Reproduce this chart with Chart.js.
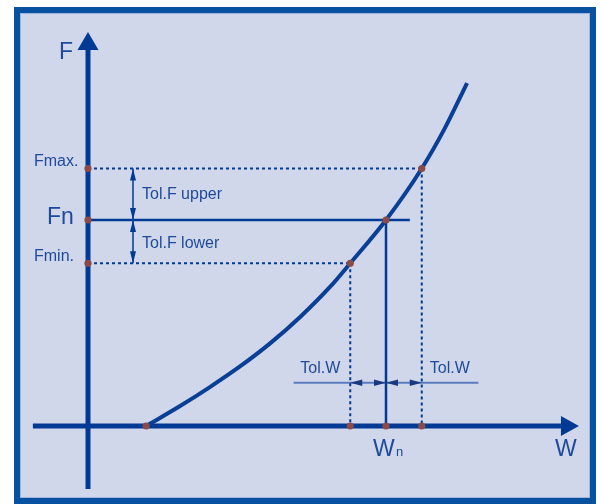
<!DOCTYPE html>
<html><head><meta charset="utf-8">
<script src="https://cdn.jsdelivr.net/npm/chart.js@4/dist/chart.umd.min.js"></script>
<style>html,body{margin:0;padding:0;background:#fff}canvas{display:block}</style>
</head><body>
<canvas id="c" width="600" height="504"></canvas>
<script>
// ---------- data (nominal Wn = 100, Fn = 100) ----------
const W_CURVE = [19.5, 30.9, 40.9, 51.0, 61.1, 71.1, 81.2, 88, 100, 112, 119.8, 127.2];
const F_CURVE = [0, 9.7, 18.9, 28.9, 40.1, 52.8, 67.5, 79, 100, 125, 144.7, 166.5];
const W_MIN = 88, W_N = 100, W_MAX = 112;
const F_MIN = 79, F_N = 100, F_MAX = 125;
const W_START = 19.5;
const W_AXIS = [-18.5, 158.7];
const F_AXIS = [-30.6, 182.5];
const TOL_F_AT_W = 15.1;
const TOL_W_AT_F = 21;
const TOL_W_LINE = [69, 131];
const FN_LINE_END = 108;
const TEXTS = ['F', 'Fmax.', 'Fn', 'Fmin.', 'Tol.F upper', 'Tol.F lower', 'Tol.W', 'Tol.W', 'W', 'n', 'W'];

// ---------- styles ----------
const AXIS = '#003a94', CURVE = '#0a3f98', DOT = '#8c4b4b', TXT = '#1e4a9c', LIGHT = '#5b7cbf';
const FONT = '"Liberation Sans", Arial, sans-serif';

const pts = (xs, ys) => xs.map((x, i) => ({x, y: ys[i]}));
const line = (data, color, width, extra) => Object.assign({
  data, showLine: true, borderColor: color, borderWidth: width, pointRadius: 0,
  fill: false, tension: 0
}, extra || {});

const datasets = [
  { data: [
      {x: 0, y: F_MAX}, {x: 0, y: F_N}, {x: 0, y: F_MIN},
      {x: W_START, y: 0}, {x: W_MIN, y: 0}, {x: W_N, y: 0}, {x: W_MAX, y: 0},
      {x: W_MIN, y: F_MIN}, {x: W_N, y: F_N}, {x: W_MAX, y: F_MAX}],
    showLine: false, pointRadius: 3.6, pointBackgroundColor: DOT, pointBorderWidth: 0 },
  line(pts(W_CURVE, F_CURVE), CURVE, 4, {cubicInterpolationMode: 'monotone'}),
  line([{x: W_AXIS[0], y: 0}, {x: W_AXIS[1], y: 0}], AXIS, 5, {arrow: {end: true, beyond: true, len: 18, half: 10}}),
  line([{x: 0, y: F_AXIS[0]}, {x: 0, y: F_AXIS[1]}], AXIS, 5, {arrow: {end: true, beyond: true, len: 18, half: 10.5}}),
  line([{x: 0, y: F_MAX}, {x: W_MAX, y: F_MAX}], AXIS, 2, {borderDash: [3, 3]}),
  line([{x: 0, y: F_MIN}, {x: W_MIN, y: F_MIN}], AXIS, 2, {borderDash: [3, 3]}),
  line([{x: W_MIN, y: F_MIN}, {x: W_MIN, y: 0}], AXIS, 2, {borderDash: [3, 3]}),
  line([{x: W_MAX, y: F_MAX}, {x: W_MAX, y: 0}], AXIS, 2, {borderDash: [3, 3]}),
  line([{x: 0, y: F_N}, {x: FN_LINE_END, y: F_N}], AXIS, 2.5),
  line([{x: W_N, y: F_N}, {x: W_N, y: 0}], AXIS, 2.5),
  line([{x: TOL_F_AT_W, y: F_N}, {x: TOL_F_AT_W, y: F_MAX}], AXIS, 1.5, {arrow: {start: true, end: true, len: 12, half: 3}}),
  line([{x: TOL_F_AT_W, y: F_N}, {x: TOL_F_AT_W, y: F_MIN}], AXIS, 1.5, {arrow: {start: true, end: true, len: 12, half: 3}}),
  line([{x: W_N, y: TOL_W_AT_F}, {x: W_MIN, y: TOL_W_AT_F}], 'rgba(0,0,0,0)', 0, {arrow: {start: true, end: true, len: 12, half: 3.2, color: '#1a3a80'}}),
  line([{x: W_N, y: TOL_W_AT_F}, {x: W_MAX, y: TOL_W_AT_F}], 'rgba(0,0,0,0)', 0, {arrow: {start: true, end: true, len: 12, half: 3.2, color: '#1a3a80'}}),
  line([{x: TOL_W_LINE[0], y: TOL_W_AT_F}, {x: TOL_W_LINE[1], y: TOL_W_AT_F}], LIGHT, 2)
];

const framePlugin = {
  id: 'frame',
  beforeDraw(chart) {
    const c = chart.ctx;
    c.save();
    c.fillStyle = '#ffffff';
    c.fillRect(0, 0, chart.width, chart.height);
    c.fillStyle = '#d0d7ea';
    c.fillRect(17, 10, 576, 491);
    c.strokeStyle = '#0652a0';
    c.lineWidth = 6;
    c.strokeRect(17, 10, 576, 491);
    c.strokeStyle = '#9fb4dc';
    c.lineWidth = 1;
    c.strokeRect(20.5, 13.5, 569, 484);
    c.restore();
  }
};

const arrowPlugin = {
  id: 'arrows',
  afterDatasetsDraw(chart) {
    const c = chart.ctx;
    chart.data.datasets.forEach((ds, i) => {
      if (!ds.arrow) return;
      const m = chart.getDatasetMeta(i).data;
      const a = ds.arrow;
      const head = (p, q) => {
        let dx = p.x - q.x, dy = p.y - q.y;
        const L = Math.hypot(dx, dy); dx /= L; dy /= L;
        let tx = p.x, ty = p.y;
        if (a.beyond) { tx += dx * a.len; ty += dy * a.len; }
        const bx = tx - dx * a.len, by = ty - dy * a.len;
        c.beginPath();
        c.moveTo(tx, ty);
        c.lineTo(bx - dy * a.half, by + dx * a.half);
        c.lineTo(bx + dy * a.half, by - dx * a.half);
        c.closePath();
        c.fillStyle = a.color || ds.borderColor;
        c.fill();
      };
      c.save();
      if (a.end) head(m[m.length - 1], m[m.length - 2]);
      if (a.start) head(m[0], m[1]);
      c.restore();
    });
  }
};

const textPlugin = {
  id: 'texts',
  afterDraw(chart) {
    const c = chart.ctx, xs = chart.scales.x, ys = chart.scales.y;
    const px = w => xs.getPixelForValue(w), py = f => ys.getPixelForValue(f);
    const items = [
      [TEXTS[0], px(0) - 29, py(F_AXIS[1]) + 9, 23],
      [TEXTS[1], px(0) - 54, py(F_MAX) - 3, 16],
      [TEXTS[2], px(0) - 41, py(F_N) + 3.5, 23],
      [TEXTS[3], px(0) - 54, py(F_MIN) - 2, 16],
      [TEXTS[4], px(TOL_F_AT_W) + 9, py(F_MAX) + 30.5, 16],
      [TEXTS[5], px(TOL_F_AT_W) + 9, py(F_N) + 28, 16],
      [TEXTS[6], px(W_MIN) - 50, py(TOL_W_AT_F) - 10, 16],
      [TEXTS[7], px(W_MAX) + 8, py(TOL_W_AT_F) - 10, 16],
      [TEXTS[8], px(W_N) - 13, py(0) + 30, 23],
      [TEXTS[9], px(W_N) + 10, py(0) + 30, 13],
      [TEXTS[10], px(W_AXIS[1]) - 6, py(0) + 30, 23]
    ];
    c.save();
    c.fillStyle = TXT;
    c.textAlign = 'left';
    c.textBaseline = 'alphabetic';
    items.forEach(([t, x, y, s]) => { c.font = s + 'px ' + FONT; c.fillText(t, x, y); });
    c.restore();
  }
};

new Chart(document.getElementById('c'), {
  type: 'scatter',
  data: { datasets },
  options: {
    responsive: false,
    animation: false,
    events: [],
    layout: { padding: 0, autoPadding: false },
    plugins: { legend: { display: false }, tooltip: { enabled: false } },
    elements: { line: { borderCapStyle: 'butt' } },
    scales: {
      x: { type: 'linear', display: false, min: -29.53, max: 171.81 },
      y: { type: 'linear', display: false, min: -37.86, max: 206.80 }
    }
  },
  plugins: [framePlugin, arrowPlugin, textPlugin]
});
</script>
</body></html>
